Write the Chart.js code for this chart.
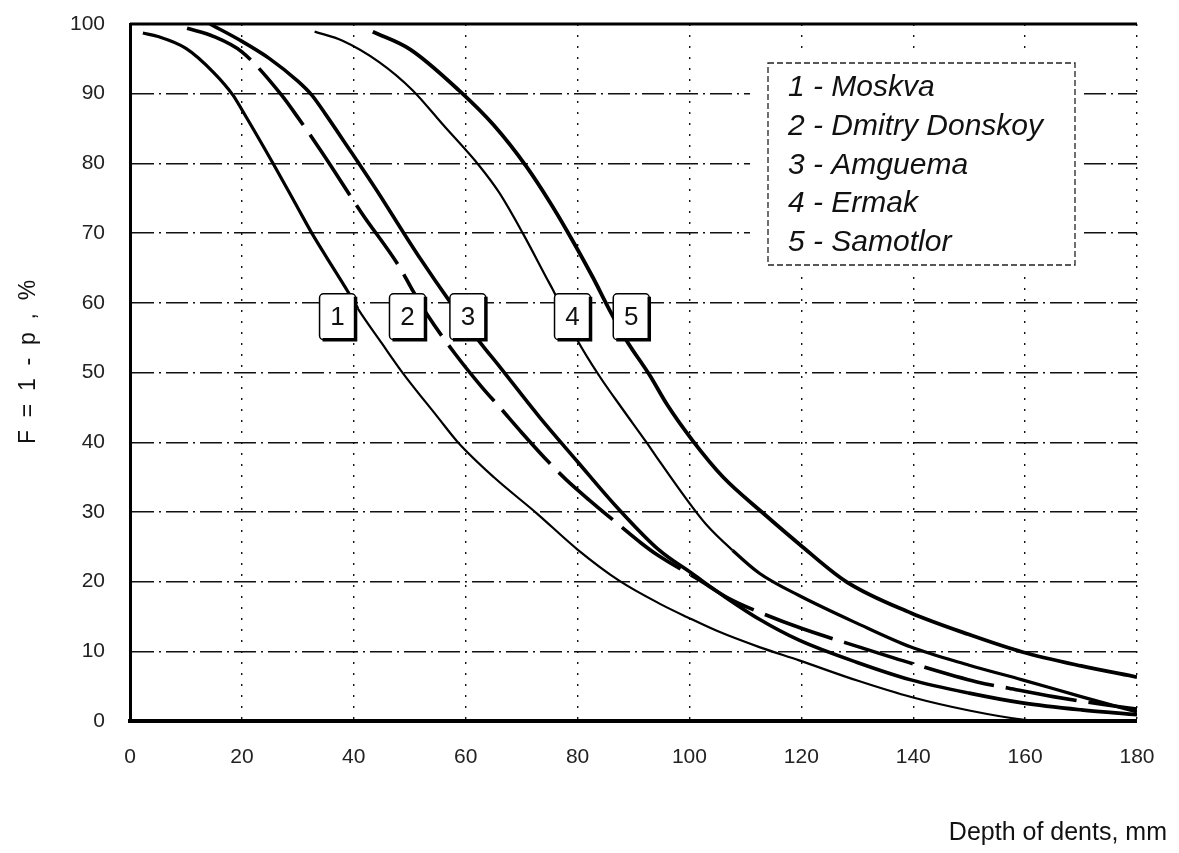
<!DOCTYPE html>
<html>
<head>
<meta charset="utf-8">
<script src="https://cdn.jsdelivr.net/npm/chart.js@4.4.1/dist/chart.umd.min.js"></script>
<style>
  html, body { margin: 0; padding: 0; background: #fff; }
  #wrap { width: 1179px; height: 853px; }
</style>
</head>
<body>
<div id="wrap"><canvas id="myChart" width="1179" height="853"></canvas></div>
<script>
// ship names, in legend order
const shipNames = ['Moskva', 'Dmitry Donskoy', 'Amguema', 'Ermak', 'Samotlor'];

// curves: depth of dents (mm) -> F = 1 - p (%)
const moskvaDepth = [2.3, 5, 10, 15, 18.4, 20, 25.5, 30, 32.5, 35, 38.8, 40.7, 45, 48.6, 55, 58.6, 65, 72.7, 80, 87.5, 95, 99.6, 105, 112.5, 119.6, 130, 139.8, 150, 159.5, 163];
const moskvaF     = [98.7, 98.2, 96.5, 93, 89.8, 87.7, 80.1, 73.6, 70, 66.7, 61.8, 59.2, 54.2, 50.1, 43.6, 40, 35, 29.8, 24.6, 20.1, 16.7, 14.9, 12.9, 10.6, 8.7, 5.8, 3.4, 1.5, 0.2, 0];

const donskoyDepth = [10.2, 15, 20, 27.1, 30, 34.3, 41.4, 48.2, 50.5, 53.2, 58, 63, 66.1, 70, 75, 78, 82.1, 87, 91.4, 94.3, 101.8, 107, 112.5, 120, 130.4, 140, 151.4, 157.1, 165, 174.6, 180];
const donskoyF     = [99.4, 98.2, 96, 89.8, 86.6, 81.6, 72.9, 65.1, 61.8, 58.2, 52.8, 47.8, 45, 41.4, 37, 34.6, 31.7, 28.4, 25.5, 23.8, 20.2, 17.6, 15.6, 13.3, 10.6, 8.2, 5.6, 4.7, 3.5, 2.3, 1.7];

const amguemaDepth = [14.3, 19.6, 25, 30, 32.5, 35, 38.8, 44.6, 48.3, 52, 56.8, 62.5, 66.1, 73.2, 80, 87, 94.6, 100.4, 106, 112.5, 119.6, 130, 139.6, 150, 159.5, 170, 180];
const amguemaF     = [100, 97.7, 95, 91.8, 89.8, 87, 82.5, 75.5, 70.8, 66.2, 60.6, 54.4, 50.8, 43.6, 37.2, 30.7, 24.5, 21.2, 18, 14.6, 11.6, 8.4, 5.9, 4, 2.6, 1.6, 0.9];

const ermakDepth = [33, 38, 44.6, 50.5, 56, 62.5, 66, 70.2, 74.5, 75.5, 80, 83.9, 88, 92.3, 94.1, 99.5, 103, 107.7, 112.5, 119.6, 130, 139.6, 150, 159.5, 170, 180];
const ermakF     = [98.9, 97.6, 94.5, 90.5, 85.5, 79.6, 75.8, 70, 63.5, 62, 54.6, 49.5, 44.8, 40, 37.9, 31.8, 28.2, 24.5, 21.2, 18, 14, 10.6, 8, 5.9, 3.5, 1.3];

const samotlorDepth = [43.4, 50, 58.9, 65, 70.9, 75, 78.2, 82.7, 85.7, 88.75, 92.9, 96, 100.5, 106, 113.2, 119.6, 128, 139.6, 150, 159.5, 170, 180];
const samotlorF     = [98.9, 96.4, 90.4, 85.5, 79.5, 74.5, 70.2, 63.7, 59, 54.6, 49.6, 45.4, 40.3, 35, 29.8, 25.4, 20, 15.5, 12.4, 9.9, 7.9, 6.3];

// numbered boxes on the curves (depth, level in %)
const boxDepth = [37.1, 49.6, 60.4, 79.1, 89.6];
const boxLevel = 58;

// axis ticks
const depthTicks = { min: 0, max: 180, step: 20 };
const levelTicks = { min: 0, max: 100, step: 10 };

const xTitle = 'Depth of dents, mm';
const yTitle = 'F  =  1  -  p  ,  %';

function pairs(xs, ys) {
    return xs.map((x, i) => ({ x: x, y: ys[i] }));
}

const FONT = '"Liberation Sans", Arial, sans-serif';

// top frame line, drawn under the curves
const topFrame = {
    id: 'topFrame',
    beforeDatasetsDraw(chart) {
        const ctx = chart.ctx;
        const y = chart.scales.y.getPixelForValue(levelTicks.max);
        ctx.save();
        ctx.strokeStyle = '#000';
        ctx.lineWidth = 3;
        ctx.beginPath();
        ctx.moveTo(chart.chartArea.left, y);
        ctx.lineTo(chart.chartArea.right, y);
        ctx.stroke();
        ctx.restore();
    }
};

// titles, legend and curve labels
const decorations = {
    id: 'decorations',
    afterDatasetsDraw(chart) {
        const ctx = chart.ctx;
        const xs = chart.scales.x;
        const ys = chart.scales.y;

        // numbered boxes
        ctx.save();
        ctx.font = '26px ' + FONT;
        ctx.textAlign = 'center';
        ctx.textBaseline = 'middle';
        boxDepth.forEach((d, i) => {
            const cx = xs.getPixelForValue(d);
            const cy = ys.getPixelForValue(boxLevel);
            const w = 36, h = 46;
            const l = cx - w / 2, t = cy - h / 2;
            ctx.fillStyle = '#fff';
            ctx.strokeStyle = '#000';
            ctx.lineWidth = 1.5;
            ctx.beginPath();
            ctx.roundRect(l, t, w, h, 4);
            ctx.fill();
            ctx.stroke();
            ctx.lineWidth = 3.5;
            ctx.beginPath();
            ctx.moveTo(l + 3, t + h);
            ctx.lineTo(l + w, t + h);
            ctx.lineTo(l + w, t + 3);
            ctx.stroke();
            ctx.fillStyle = '#111';
            ctx.fillText(String(i + 1), cx, cy + 1);
        });
        ctx.restore();

        // legend, with a white background that hides the grid behind it
        ctx.save();
        ctx.fillStyle = '#fff';
        ctx.fillRect(750, 57, 333, 214);
        ctx.strokeStyle = '#222';
        ctx.lineWidth = 1.3;
        ctx.setLineDash([6, 3]);
        ctx.strokeRect(768, 63, 307, 202);
        ctx.setLineDash([]);
        ctx.fillStyle = '#111';
        ctx.font = 'italic 30px ' + FONT;
        ctx.textAlign = 'left';
        ctx.textBaseline = 'middle';
        shipNames.forEach((name, i) => {
            ctx.fillText((i + 1) + ' - ' + name, 788, 88 + i * 38.7);
        });
        ctx.restore();

        // axis titles
        ctx.save();
        ctx.fillStyle = '#111';
        ctx.font = '25px ' + FONT;
        ctx.textAlign = 'right';
        ctx.textBaseline = 'middle';
        ctx.fillText(xTitle, 1167, 833);
        ctx.translate(29, 362);
        ctx.rotate(-Math.PI / 2);
        ctx.textAlign = 'center';
        ctx.font = '23px ' + FONT;
        ctx.fillText(yTitle, 0, 0);
        ctx.restore();
    }
};

const lineBase = {
    borderColor: '#000',
    pointRadius: 0,
    fill: false,
    cubicInterpolationMode: 'monotone'
};

new Chart(document.getElementById('myChart').getContext('2d'), {
    type: 'line',
    data: {
        datasets: [
            Object.assign({}, lineBase, {
                label: shipNames[0], data: pairs(moskvaDepth, moskvaF), borderWidth: 2.2,
                segment: { borderWidth: c => c.p0.parsed.x < 40 ? 3.2 : 2.2 }
            }),
            Object.assign({}, lineBase, {
                label: shipNames[1], data: pairs(donskoyDepth, donskoyF), borderWidth: 3.6,
                borderDash: [72, 12]
            }),
            Object.assign({}, lineBase, {
                label: shipNames[2], data: pairs(amguemaDepth, amguemaF), borderWidth: 3.6
            }),
            Object.assign({}, lineBase, {
                label: shipNames[3], data: pairs(ermakDepth, ermakF), borderWidth: 2.2,
                segment: { borderWidth: c => c.p0.parsed.x >= 105 ? 3.2 : 2.2 }
            }),
            Object.assign({}, lineBase, {
                label: shipNames[4], data: pairs(samotlorDepth, samotlorF), borderWidth: 3.8
            })
        ]
    },
    options: {
        responsive: false,
        animation: false,
        events: [],
        layout: { padding: { left: 0, top: 24, right: 42, bottom: 0 } },
        plugins: {
            legend: { display: false },
            tooltip: { enabled: false }
        },
        scales: {
            x: {
                type: 'linear',
                position: 'bottom',
                min: depthTicks.min,
                max: depthTicks.max,
                afterFit: s => { s.height = 132; },
                ticks: {
                    stepSize: depthTicks.step,
                    padding: 24,
                    color: '#222',
                    font: { family: FONT, size: 21 }
                },
                grid: {
                    drawTicks: false,
                    color: '#111',
                    lineWidth: c => c.tick && c.tick.value === 0 ? 0 : 1.4
                },
                border: { display: true, color: '#000', width: 4, dash: [2, 9] }
            },
            y: {
                min: levelTicks.min,
                max: levelTicks.max,
                afterFit: s => { s.width = 130; },
                ticks: {
                    stepSize: levelTicks.step,
                    padding: 0,
                    color: '#222',
                    font: { family: FONT, size: 21 }
                },
                grid: {
                    drawTicks: true,
                    tickLength: 25,
                    tickColor: 'rgba(0,0,0,0)',
                    color: '#111',
                    lineWidth: c => c.tick && (c.tick.value === 0 || c.tick.value === 100) ? 0 : 1.4
                },
                border: { display: true, color: '#000', width: 3, dash: [22, 5, 2, 5] }
            }
        }
    },
    plugins: [topFrame, decorations]
});
</script>
</body>
</html>
